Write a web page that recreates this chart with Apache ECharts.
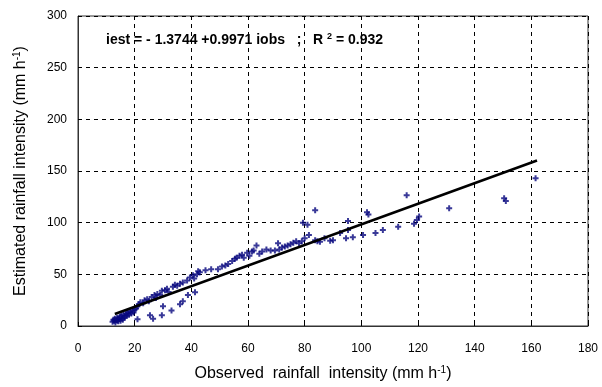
<!DOCTYPE html>
<html>
<head>
<meta charset="utf-8">
<script src="https://cdn.jsdelivr.net/npm/echarts@6/dist/echarts.min.js"></script>
<style>html,body{margin:0;padding:0;background:#fff}#c{width:602px;height:387px}</style>
</head>
<body>
<div id="c"></div>
<script>
// Observed / estimated rainfall intensity pairs (mm h-1)
const observed = [
  12.2,12.5,12.8,13,13.2,13.5,13.8,14,14.2,14.5,14.8,15,15.3,15.5,15.8,16,16.3,16.6,17,17.3,17.6,18,18.4,18.8,19.2,19.6,20,20.5,
  21,21.5,22,23,23.5,24.4,25,26,27,27.5,28,29,29.6,30.7,31.4,32,33.5,34.2,35,36,37,38.5,39.5,40.6,41,42,42.4,43,
  21,25.4,26.5,29.6,30,33,36,37,38.8,41.3,
  45,47,49.4,50.8,52,53,54.4,55.4,56,57,57.9,58.5,59.7,60.5,61.4,62,63,64,65,66.5,68,69.5,70.6,71,72,73,74,75,76,77,78,79,
  79.4,80,81,81.5,83.7,83.7,84.5,85.4,87,89,90,92.5,94.6,95.3,95.3,97,100.6,102,102.5,105,107.6,113,116,118.6,119.6,120.4,131,150.4,151,161.5
];
const estimated = [
  4,6,5,7,3.5,5.5,8,6,4.5,7,9,5,10,7.5,6,11,8,9.5,12,10,13,11,14,12,15,13,16,17,
  19,21,23,22,25,26,24,28,30,27,31,30,34,34.5,36,33,38,40,39,41,42,44,47,49,46,50,53,52,
  6.5,10.5,7,10.5,19,15,21,24,30,32.6,
  54,55,55,57.5,58.5,60,63,65,66,68,69,66,71,68,72,73,78,70,72,74,73,73,80,74,76,77,78,79,80.5,82,80,82,
  100,85,98,88,112,83,82,81.5,85,82.5,83,90,85,101.6,93,86,88,110,108,90,93,96,126.5,99,102.6,106,114,123.7,121,143
];
// Regression: iest = -1.3744 + 0.9971 iobs ; R2 = 0.932
const fitIntercept = -1.3744;
const fitSlope = 0.9971;
const fitRange = [13, 162];
const xTicks = [0,20,40,60,80,100,120,140,160,180];
const yTicks = [0,50,100,150,200,250,300];

const points = observed.map((x, i) => [x, estimated[i]]);
const fitLine = fitRange.map(x => [x, fitIntercept + fitSlope * x]);

const chart = echarts.init(document.getElementById('c'));
const FONT = '"Liberation Sans", Arial, sans-serif';
const gridLine = {show: true, lineStyle: {color: '#000', type: [4, 4], width: 1}};
const supStyle = {fontSize: 10, fontFamily: FONT, color: '#000', verticalAlign: 'top', padding: [0, 0, 8, 0]};
chart.setOption({
  animation: false,
  backgroundColor: '#fff',
  grid: {left: 78, right: 14, top: 16, bottom: 58, show: true, borderColor: '#333', borderWidth: 1},
  xAxis: {
    type: 'value', min: xTicks[0], max: xTicks[xTicks.length - 1], interval: 20,
    axisLine: {show: true, onZero: false, lineStyle: {color: '#333'}},
    axisTick: {show: true, inside: true, length: 4, lineStyle: {color: '#000'}},
    splitLine: gridLine,
    axisLabel: {color: '#000', fontFamily: FONT, fontSize: 12, margin: 17},
    name: 'Observed  rainfall  intensity (mm h{s|-1})',
    nameLocation: 'middle', nameGap: 39,
    nameTextStyle: {color: '#000', fontFamily: FONT, fontSize: 16, padding: [0, 20, 0, 0], rich: {s: supStyle}}
  },
  yAxis: {
    type: 'value', min: yTicks[0], max: yTicks[yTicks.length - 1], interval: 50,
    axisLine: {show: true, onZero: false, lineStyle: {color: '#333'}},
    axisTick: {show: true, inside: true, length: 4, lineStyle: {color: '#000'}},
    splitLine: gridLine,
    axisLabel: {color: '#000', fontFamily: FONT, fontSize: 12, margin: 11},
    name: 'Estimated rainfall intensity (mm h{s|-1})',
    nameLocation: 'middle', nameGap: 48,
    nameTextStyle: {color: '#000', fontFamily: FONT, fontSize: 16, padding: [0, 0, 0, 0], rich: {s: supStyle}}
  },
  graphic: [{
    type: 'text', left: 106, top: 32,
    style: {
      text: 'iest = - 1.3744 +0.9971 iobs   ;   R {s|2} = 0.932',
      font: 'bold 14px ' + FONT, fill: '#000',
      rich: {s: {font: 'bold 9px ' + FONT, fill: '#000', verticalAlign: 'top', padding: [0, 0, 8, 0]}}
    }
  }],
  series: [
    {
      type: 'scatter', data: points, z: 3,
      symbol: 'path://M2,0H4V2H6V4H4V6H2V4H0V2H2Z', symbolSize: 6,
      itemStyle: {color: '#08087e'}
    },
    {
      type: 'line', data: fitLine, showSymbol: false, symbol: 'none', z: 4,
      lineStyle: {color: '#000', width: 2.5}
    }
  ]
});
</script>
</body>
</html>
